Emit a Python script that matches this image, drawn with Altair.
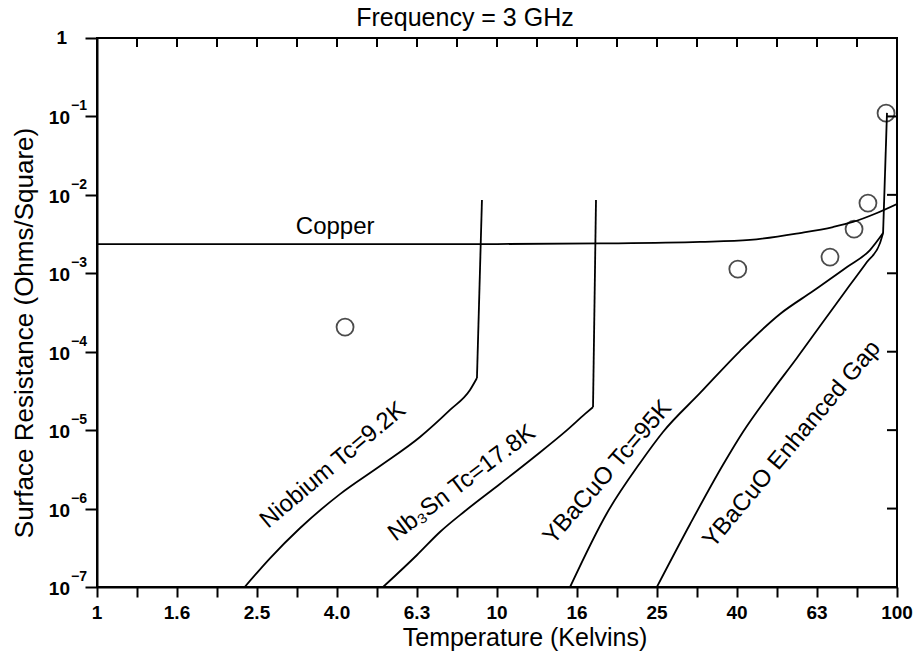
import altair as alt
import pandas as pd

# ---- curve data: temperature (K) vs surface resistance (ohms/square) at 3 GHz ----
copper_t = [1.0, 10.0, 18.1, 32.2, 42.9, 57.2, 69.2, 77.6, 89.1, 100.0]
copper_r = [2.36e-3, 2.36e-3, 2.40e-3, 2.51e-3, 2.66e-3, 3.26e-3, 3.89e-3, 4.51e-3, 5.87e-3, 7.64e-3]

niobium_t = [2.34, 2.71, 3.22, 4.05, 5.10, 6.42, 7.63, 8.56, 8.91]
niobium_r = [1.0e-7, 2.34e-7, 5.65e-7, 1.53e-6, 3.49e-6, 8.18e-6, 1.81e-5, 3.25e-5, 4.62e-5]

nb3sn_t = [5.19, 6.31, 7.20, 8.32, 10.17, 12.30, 14.96, 16.60, 17.38]
nb3sn_r = [1.0e-7, 2.56e-7, 5.03e-7, 9.31e-7, 2.06e-6, 4.42e-6, 1.0e-5, 1.61e-5, 1.97e-5]

ybco_t = [15.23, 18.84, 22.78, 26.0, 32.2, 40.5, 51.0, 61.7, 75.0, 85.6, 92.3]
ybco_r = [1.0e-7, 8.79e-7, 3.81e-6, 9.47e-6, 2.98e-5, 1.02e-4, 3.03e-4, 5.94e-4, 1.20e-3, 1.98e-3, 3.26e-3]

gap_t = [25.1, 30.4, 36.7, 41.2, 48.1, 56.2, 65.3, 75.0, 84.1, 90.7, 92.3]
gap_r = [1.0e-7, 6.36e-7, 3.59e-6, 9.47e-6, 2.89e-5, 8.32e-5, 2.39e-4, 6.31e-4, 1.39e-3, 2.43e-3, 3.26e-3]

# steep rise of each superconductor at its transition temperature
riser_curve = ["Niobium", "Niobium", "Nb3Sn", "Nb3Sn", "YBaCuO", "YBaCuO"]
riser_t = [8.91, 9.17, 17.38, 17.68, 92.3, 94.4]
riser_r = [4.62e-5, 8.6e-3, 1.97e-5, 8.6e-3, 3.26e-3, 0.111]

# measured YBaCuO points
meas_t = [4.17, 40.0, 68.0, 78.1, 84.6, 93.9]
meas_r = [2.06e-4, 1.13e-3, 1.61e-3, 3.66e-3, 7.86e-3, 0.11]

# curve labels: text, anchor temperature, anchor resistance, rotation
label_text = ["Copper", "Niobium Tc=9.2K", "Nb\u2083Sn Tc=17.8K", "YBaCuO Tc=95K", "YBaCuO Enhanced Gap"]
label_t = [3.94, 3.89, 8.17, 18.9, 54.6]
label_r = [3.89e-3, 3.58e-6, 2.11e-6, 2.9e-6, 6.6e-6]
label_angle = [0, 320, 323, 311, 310]

# axis tick values and labels
x_minor = [10 ** (k / 10) for k in range(21)]
x_label_pos = [10 ** (k / 5) for k in range(11)]
x_labels = ["1", "1.6", "2.5", "4.0", "6.3", "10", "16", "25", "40", "63", "100"]
y_decades = [10.0 ** -k for k in range(8)]
y_exp_pos = [10.0 ** -k for k in range(1, 8)]
y_exps = ["\u22121", "\u22122", "\u22123", "\u22124", "\u22125", "\u22126", "\u22127"]

title_text = "Frequency = 3 GHz"
x_title = "Temperature (Kelvins)"
y_title = "Surface Resistance (Ohms/Square)"

FONT = "Liberation Sans"

frames = []
for name, ts, rs in [("Copper", copper_t, copper_r), ("Niobium", niobium_t, niobium_r),
                     ("Nb3Sn", nb3sn_t, nb3sn_r), ("YBaCuO", ybco_t, ybco_r),
                     ("Gap", gap_t, gap_r)]:
    frames.append(pd.DataFrame({"T": ts, "R": rs, "curve": name}))
curve_df = pd.concat(frames, ignore_index=True)
riser_df = pd.DataFrame({"T": riser_t, "R": riser_r, "curve": riser_curve})
meas_df = pd.DataFrame({"T": meas_t, "R": meas_r})
lab_df = pd.DataFrame({"text": label_text, "T": label_t, "R": label_r, "angle": label_angle})

x_scale = alt.Scale(type="log", domain=[1, 100], nice=False)
y_scale = alt.Scale(type="log", domain=[1e-7, 1], nice=False)

curves = alt.Chart(curve_df).mark_line(color="black", strokeWidth=1.8, clip=True,
                                       interpolate="monotone").encode(
    x=alt.X("T:Q", scale=x_scale,
            axis=alt.Axis(values=x_minor, labels=False, title=None, tickSize=10, tickWidth=2,
                          domainWidth=2, domainColor="black", tickColor="black", grid=False)),
    y=alt.Y("R:Q", scale=y_scale,
            axis=alt.Axis(values=y_decades, labels=False, title=None, tickSize=12, tickWidth=2,
                          domainWidth=2, domainColor="black", tickColor="black", grid=False)),
    detail="curve:N",
)

risers = alt.Chart(riser_df).mark_line(color="black", strokeWidth=1.8, clip=True).encode(
    x=alt.X("T:Q", scale=x_scale), y=alt.Y("R:Q", scale=y_scale), detail="curve:N")

points = alt.Chart(meas_df).mark_point(shape="circle", size=289, filled=False, color="black",
                                       strokeWidth=1.8).encode(
    x=alt.X("T:Q", scale=x_scale), y=alt.Y("R:Q", scale=y_scale))

labels = alt.Chart(lab_df).mark_text(font=FONT, fontSize=24, color="black", align="center",
                                     baseline="middle").encode(
    x=alt.X("T:Q", scale=x_scale), y=alt.Y("R:Q", scale=y_scale),
    text="text:N", angle=alt.Angle("angle:Q", scale=None))

# inward ticks on the top and right edges
top_ticks = alt.Chart(pd.DataFrame({"T": x_minor[1:-1]})).mark_rule(color="black", strokeWidth=2).encode(
    x=alt.X("T:Q", scale=x_scale), y=alt.value(0), y2=alt.value(9))
right_ticks = alt.Chart(pd.DataFrame({"R": y_decades[1:-1]})).mark_rule(color="black", strokeWidth=2).encode(
    y=alt.Y("R:Q", scale=y_scale), x=alt.value(790), x2=alt.value(800))

xlab = alt.Chart(pd.DataFrame({"T": x_label_pos, "lab": x_labels})).mark_text(
    font=FONT, fontSize=19, fontWeight="bold", color="black", align="center", baseline="middle").encode(
    x=alt.X("T:Q", scale=x_scale), y=alt.value(575), text="lab:N")

ybase = alt.Chart(pd.DataFrame({"R": y_exp_pos, "lab": ["10"] * len(y_exp_pos)})).mark_text(
    font=FONT, fontSize=19, fontWeight="bold", color="black", align="right", baseline="middle", dy=2).encode(
    y=alt.Y("R:Q", scale=y_scale), x=alt.value(-27), text="lab:N")
yexp = alt.Chart(pd.DataFrame({"R": y_exp_pos, "lab": y_exps})).mark_text(
    font=FONT, fontSize=14, fontWeight="bold", color="black", align="left", baseline="middle", dy=-10).encode(
    y=alt.Y("R:Q", scale=y_scale), x=alt.value(-26), text="lab:N")
yone = alt.Chart(pd.DataFrame({"R": [1.0], "lab": ["1"]})).mark_text(
    font=FONT, fontSize=19, fontWeight="bold", color="black", align="right", baseline="middle").encode(
    y=alt.Y("R:Q", scale=y_scale), x=alt.value(-30), text="lab:N")

title = alt.Chart(pd.DataFrame({"lab": [title_text]})).mark_text(
    font=FONT, fontSize=25, color="black", align="center", baseline="middle").encode(
    x=alt.value(368), y=alt.value(-20), text="lab:N")
xt = alt.Chart(pd.DataFrame({"lab": [x_title]})).mark_text(
    font=FONT, fontSize=25, color="black", align="center", baseline="middle").encode(
    x=alt.value(428), y=alt.value(600), text="lab:N")
yt = alt.Chart(pd.DataFrame({"lab": [y_title]})).mark_text(
    font=FONT, fontSize=26, color="black", align="center", baseline="middle", angle=270).encode(
    x=alt.value(-72), y=alt.value(295), text="lab:N")

chart = alt.layer(curves, risers, points, labels, top_ticks, right_ticks, xlab, ybase, yexp, yone,
                  title, xt, yt).properties(
    width=800, height=549,
    autosize=alt.AutoSizeParams(type="none"),
    padding={"left": 97, "top": 38, "right": 24, "bottom": 71},
    background="white",
).configure_view(stroke="black", strokeWidth=2)

chart.save("out.html", embed_options={"renderer": "svg", "actions": False})
